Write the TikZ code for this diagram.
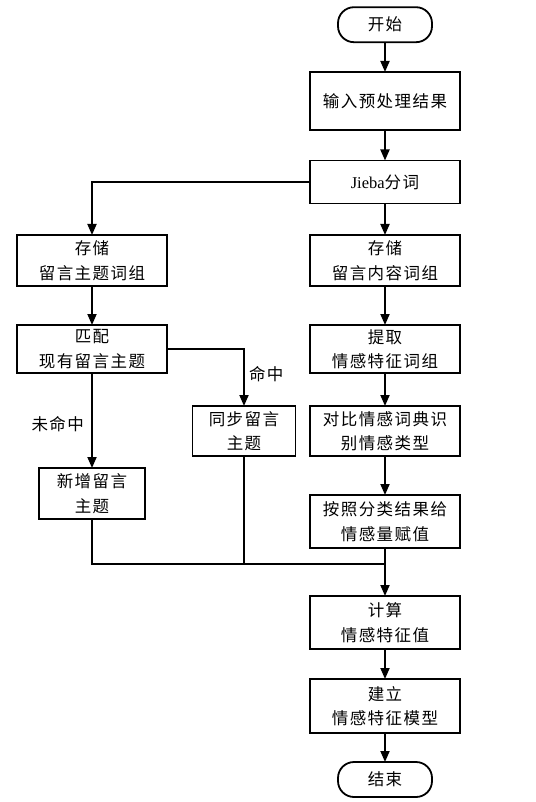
\documentclass[tikz,border=0pt]{standalone}
\usepackage{fontspec}
\setmainfont{Liberation Serif}
\newfontfamily\cjk{Noto Sans CJK SC}[LetterSpace=9]
\usetikzlibrary{arrows.meta}
\begin{document}
\begin{tikzpicture}[x=1pt,y=-1pt,
  every node/.style={inner sep=0pt,outer sep=0pt},
  box/.style={draw,line width=1.8pt,minimum width=150pt,align=center,font=\cjk\fontsize{16.5}{24.5}\selectfont},
  term/.style={box,minimum width=94pt,minimum height=35pt,rounded corners=16pt},
  lbl/.style={font=\cjk\fontsize{16.5}{24.5}\selectfont},
  conn/.style={line width=1.8pt},
  arr/.style={conn,-{Triangle[width=9pt,length=11pt]}}]
\useasboundingbox (0,0) rectangle (535,802);
\fill[white] (0,0) rectangle (535,802);
\node[term] (start) at (385,24.7) {开始};
\node[box,minimum height=58pt] (input) at (385,101) {输入预处理结果};
\node[box,minimum height=43pt] (jieba) at (385,182) {{\rmfamily Jieba}分词};
\node[box,minimum height=51pt] (storeR) at (385,260.5) {存储\\留言内容词组};
\node[box,minimum height=51pt] (storeL) at (92,260.5) {存储\\留言主题词组};
\node[box,minimum height=48pt] (match) at (92,349) {匹配\\现有留言主题};
\node[box,minimum height=48pt] (extract) at (385,349) {提取\\情感特征词组};
\node[box,minimum width=103pt,minimum height=50pt] (sync) at (244,431) {同步留言\\主题};
\node[box,minimum height=50pt] (compare) at (385,431) {对比情感词典识\\别情感类型};
\node[box,minimum width=106pt,minimum height=51pt] (newt) at (92,493.5) {新增留言\\主题};
\node[box,minimum height=53pt] (assign) at (385,521.5) {按照分类结果给\\情感量赋值};
\node[box,minimum height=53pt] (calc) at (385,622.5) {计算\\情感特征值};
\node[box,minimum height=54pt] (model) at (385,706) {建立\\情感特征模型};
\node[term] (end) at (385,779.5) {结束};
\coordinate (merge) at (385,564);
\draw[arr] (start) -- (input);
\draw[arr] (input) -- (jieba);
\draw[arr] (jieba) -- (storeR);
\draw[arr] (jieba.west) -| (storeL.north);
\draw[arr] (storeL) -- (match);
\draw[arr] (storeR) -- (extract);
\draw[arr] (extract) -- (compare);
\draw[arr] (compare) -- (assign);
\draw[arr] (match) -- node[lbl,anchor=east,xshift=-8pt,yshift=-4pt] {未命中} (newt);
\draw[arr] (match.east) -| node[lbl,pos=0.72,anchor=west,xshift=5pt] {命中} (sync.north);
\draw[conn] (newt.south) |- (merge);
\draw[conn] (sync.south) -- (sync.south |- merge);
\draw[arr] (assign) -- (calc);
\draw[arr] (calc) -- (model);
\draw[arr] (model) -- (end);
\end{tikzpicture}
\end{document}
